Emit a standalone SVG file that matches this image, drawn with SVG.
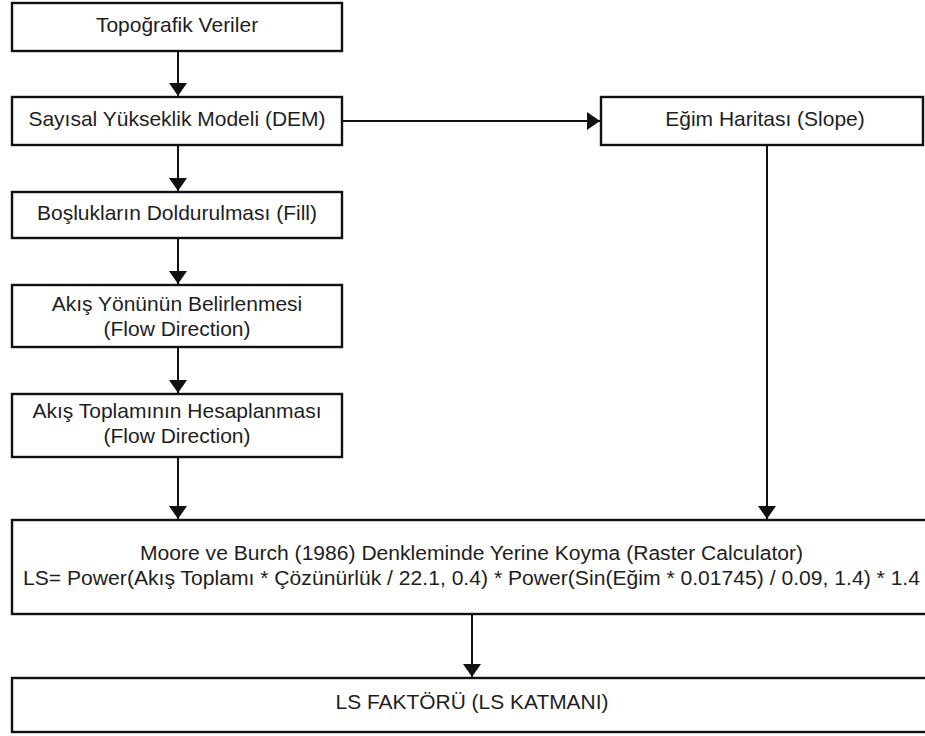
<svg xmlns="http://www.w3.org/2000/svg" width="925" height="736" viewBox="0 0 925 736">
<defs>
<style>
.box{fill:#fff;stroke:#111;stroke-width:2.4}
.t{font-family:"Liberation Sans",Arial,sans-serif;font-size:21px;fill:#1e1e1e;text-anchor:middle}
.s{font-size:20px}
.c{stroke:#111;stroke-width:2;fill:none}
</style>
<marker id="ah" viewBox="0 0 13 18" refX="13" refY="9" markerWidth="13" markerHeight="18" markerUnits="userSpaceOnUse" orient="auto">
<path d="M0,0 L13,9 L0,18 Z" fill="#111"/>
</marker>
</defs>
<rect width="925" height="736" fill="#fff"/>
<g id="connectors">
<line class="c" x1="178" y1="51" x2="178" y2="96" marker-end="url(#ah)"/>
<line class="c" x1="178" y1="145" x2="178" y2="191" marker-end="url(#ah)"/>
<line class="c" x1="178" y1="238" x2="178" y2="284" marker-end="url(#ah)"/>
<line class="c" x1="178" y1="347" x2="178" y2="393" marker-end="url(#ah)"/>
<line class="c" x1="178" y1="457" x2="178" y2="519" marker-end="url(#ah)"/>
<line class="c" x1="342" y1="121" x2="600" y2="121" marker-end="url(#ah)"/>
<line class="c" x1="767" y1="145" x2="767" y2="519" marker-end="url(#ah)"/>
<line class="c" x1="472" y1="614" x2="472" y2="677" marker-end="url(#ah)"/>
</g>
<g id="n1"><rect class="box" x="12" y="3" width="330" height="48"/><text class="t" x="177" y="32">Topoğrafik Veriler</text></g>
<g id="n2"><rect class="box" x="12" y="97" width="330" height="48"/><text class="t" x="177" y="126">Sayısal Yükseklik Modeli (DEM)</text></g>
<g id="n3"><rect class="box" x="12" y="192" width="330" height="46"/><text class="t" x="177" y="220">Boşlukların Doldurulması (Fill)</text></g>
<g id="n4"><rect class="box" x="12" y="285" width="330" height="62"/><text class="t" x="177" y="311">Akış Yönünün Belirlenmesi</text><text class="t" x="177" y="336">(Flow Direction)</text></g>
<g id="n5"><rect class="box" x="12" y="394" width="330" height="63"/><text class="t" x="177" y="418">Akış Toplamının Hesaplanması</text><text class="t" x="177" y="443">(Flow Direction)</text></g>
<g id="n6"><rect class="box" x="601" y="97" width="322" height="48"/><text class="t" x="765" y="126">Eğim Haritası (Slope)</text></g>
<g id="n7"><rect class="box" x="12" y="520" width="930" height="94"/>
<text class="t s" x="471.5" y="560" textLength="663" lengthAdjust="spacingAndGlyphs">Moore ve Burch (1986) Denkleminde Yerine Koyma (Raster Calculator)</text>
<text class="t s" x="471.5" y="585" textLength="897" lengthAdjust="spacingAndGlyphs">LS= Power(Akış Toplamı * Çözünürlük / 22.1, 0.4) * Power(Sin(Eğim * 0.01745) / 0.09, 1.4) * 1.4</text></g>
<g id="n8"><rect class="box" x="12" y="678" width="930" height="54"/><text class="t" x="472" y="709" textLength="273" lengthAdjust="spacingAndGlyphs">LS FAKTÖRÜ (LS KATMANI)</text></g>
</svg>
